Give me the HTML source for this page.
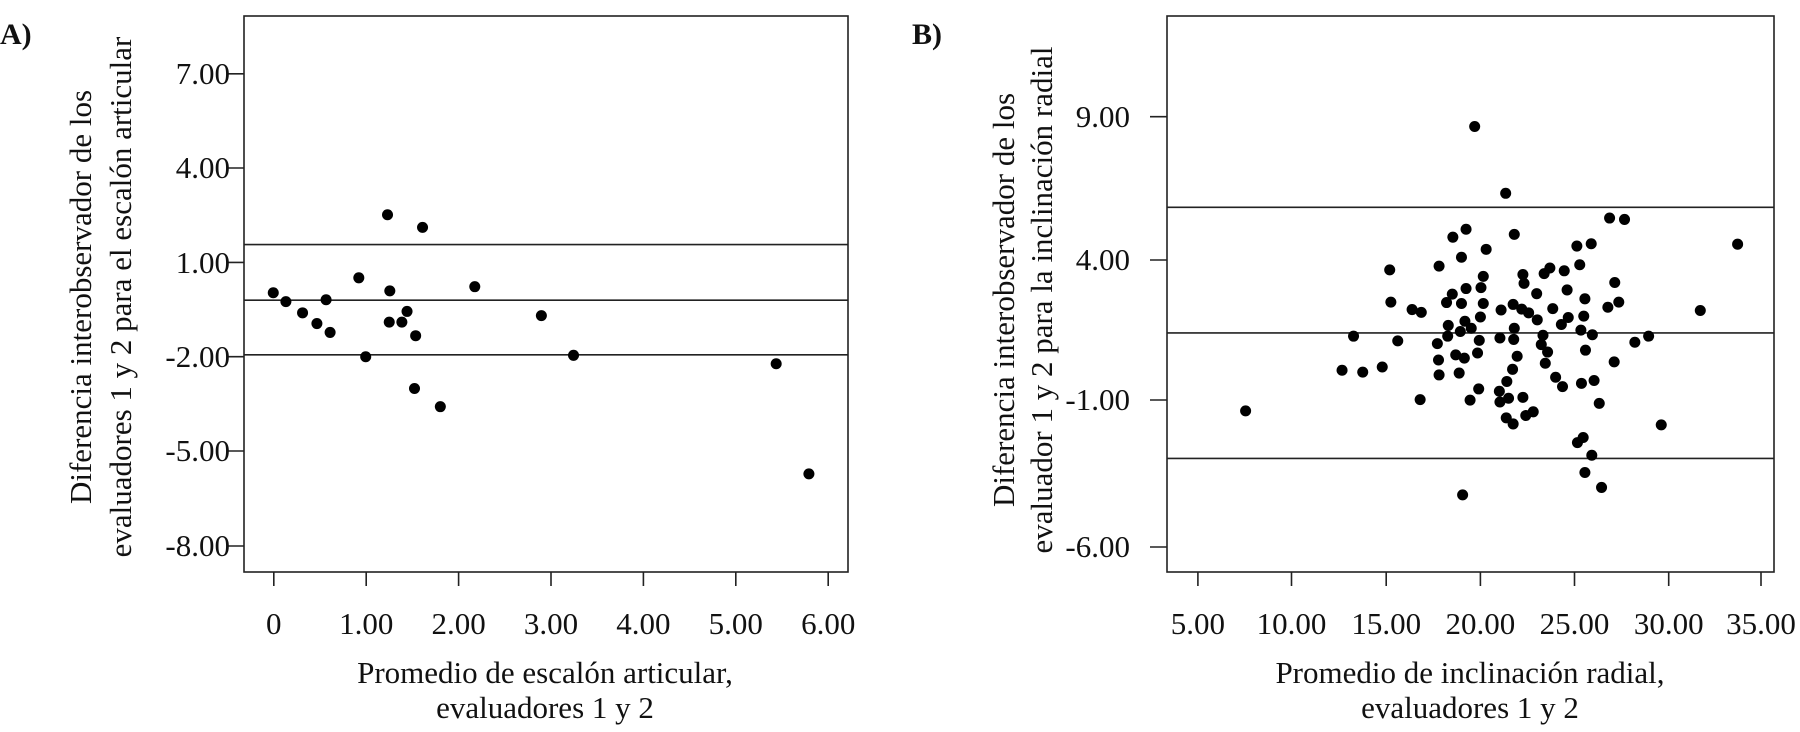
<!DOCTYPE html>
<html><head><meta charset="utf-8"><style>
html,body{margin:0;padding:0;background:#fff;}
svg{display:block;}
text{font-family:"Liberation Serif",serif;fill:#111;}
</style></head><body>
<svg width="1800" height="732" viewBox="0 0 1800 732" xmlns="http://www.w3.org/2000/svg">
<g stroke="#222" stroke-width="1.6" fill="none">
<rect x="244" y="16" width="604" height="556"/>
<line x1="244" y1="244.6" x2="848" y2="244.6"/>
<line x1="244" y1="300.2" x2="848" y2="300.2"/>
<line x1="244" y1="354.8" x2="848" y2="354.8"/>
<line x1="227" y1="73.8" x2="244" y2="73.8"/><line x1="227" y1="168" x2="244" y2="168"/><line x1="227" y1="262.4" x2="244" y2="262.4"/><line x1="227" y1="356.7" x2="244" y2="356.7"/><line x1="227" y1="451" x2="244" y2="451"/><line x1="227" y1="546" x2="244" y2="546"/>
<line x1="273.8" y1="572" x2="273.8" y2="586"/><line x1="366.2" y1="572" x2="366.2" y2="586"/><line x1="458.6" y1="572" x2="458.6" y2="586"/><line x1="551" y1="572" x2="551" y2="586"/><line x1="643.4" y1="572" x2="643.4" y2="586"/><line x1="735.8" y1="572" x2="735.8" y2="586"/><line x1="828.2" y1="572" x2="828.2" y2="586"/>
<rect x="1167" y="16" width="607" height="556"/>
<line x1="1167" y1="207.3" x2="1774" y2="207.3"/>
<line x1="1167" y1="332.9" x2="1774" y2="332.9"/>
<line x1="1167" y1="458.4" x2="1774" y2="458.4"/>
<line x1="1150" y1="116.7" x2="1167" y2="116.7"/><line x1="1150" y1="260" x2="1167" y2="260"/><line x1="1150" y1="400" x2="1167" y2="400"/><line x1="1150" y1="547" x2="1167" y2="547"/>
<line x1="1197.9" y1="572" x2="1197.9" y2="586"/><line x1="1291.5" y1="572" x2="1291.5" y2="586"/><line x1="1386.2" y1="572" x2="1386.2" y2="586"/><line x1="1480.4" y1="572" x2="1480.4" y2="586"/><line x1="1574.5" y1="572" x2="1574.5" y2="586"/><line x1="1668.7" y1="572" x2="1668.7" y2="586"/><line x1="1761" y1="572" x2="1761" y2="586"/>
</g>
<g font-size="31" text-anchor="end">
<text x="230" y="84">7.00</text><text x="230" y="178">4.00</text><text x="230" y="273">1.00</text><text x="230" y="367">-2.00</text><text x="230" y="461">-5.00</text><text x="230" y="556">-8.00</text>
<text x="1130" y="127">9.00</text><text x="1130" y="270">4.00</text><text x="1130" y="410">-1.00</text><text x="1130" y="557">-6.00</text>
</g>
<g font-size="31" text-anchor="middle">
<text x="273.8" y="634">0</text><text x="366.2" y="634">1.00</text><text x="458.6" y="634">2.00</text><text x="551" y="634">3.00</text><text x="643.4" y="634">4.00</text><text x="735.8" y="634">5.00</text><text x="828.2" y="634">6.00</text>
<text x="1197.9" y="634">5.00</text><text x="1291.5" y="634">10.00</text><text x="1386.2" y="634">15.00</text><text x="1480.4" y="634">20.00</text><text x="1574.5" y="634">25.00</text><text x="1668.7" y="634">30.00</text><text x="1761" y="634">35.00</text>
<text x="545" y="683">Promedio de escalón articular,</text>
<text x="545" y="718">evaluadores 1 y 2</text>
<text x="1470" y="683">Promedio de inclinación radial,</text>
<text x="1470" y="718">evaluadores 1 y 2</text>
<text transform="translate(91,297) rotate(-90)">Diferencia interobservador de los</text>
<text transform="translate(131,297) rotate(-90)">evaluadores 1 y 2 para el escalón articular</text>
<text transform="translate(1014,300) rotate(-90)">Diferencia interobservador de los</text>
<text transform="translate(1052,300) rotate(-90)">evaluador 1 y 2 para la inclinación radial</text>
</g>
<text x="0" y="44" font-size="30" font-weight="bold">A)</text>
<text x="912" y="44" font-size="30" font-weight="bold">B)</text>
<g transform="scale(0.5741,0.4669)" fill="#000">
<ellipse cx="476" cy="627" rx="9.6" ry="11.8"/><ellipse cx="498" cy="646" rx="9.6" ry="11.8"/><ellipse cx="527" cy="670" rx="9.6" ry="11.8"/><ellipse cx="552" cy="693" rx="9.6" ry="11.8"/><ellipse cx="568" cy="642" rx="9.6" ry="11.8"/><ellipse cx="575" cy="712" rx="9.6" ry="11.8"/><ellipse cx="625" cy="595" rx="9.6" ry="11.8"/><ellipse cx="637" cy="764" rx="9.6" ry="11.8"/><ellipse cx="675" cy="460" rx="9.6" ry="11.8"/><ellipse cx="679" cy="623" rx="9.6" ry="11.8"/><ellipse cx="678" cy="690" rx="9.6" ry="11.8"/><ellipse cx="700" cy="690" rx="9.6" ry="11.8"/><ellipse cx="709" cy="667" rx="9.6" ry="11.8"/><ellipse cx="724" cy="719" rx="9.6" ry="11.8"/><ellipse cx="722" cy="832" rx="9.6" ry="11.8"/><ellipse cx="736" cy="487" rx="9.6" ry="11.8"/><ellipse cx="767" cy="871" rx="9.6" ry="11.8"/><ellipse cx="827" cy="614" rx="9.6" ry="11.8"/><ellipse cx="943" cy="676" rx="9.6" ry="11.8"/><ellipse cx="999" cy="761" rx="9.6" ry="11.8"/><ellipse cx="1352" cy="779" rx="9.6" ry="11.8"/><ellipse cx="1409" cy="1015" rx="9.6" ry="11.8"/>
</g>
<g transform="translate(900,0) scale(0.5741,0.4669)" fill="#000">
<ellipse cx="1001" cy="271" rx="9.6" ry="11.8"/><ellipse cx="1055" cy="414" rx="9.6" ry="11.8"/><ellipse cx="1236" cy="467" rx="9.6" ry="11.8"/><ellipse cx="1262" cy="470" rx="9.6" ry="11.8"/><ellipse cx="1070" cy="502" rx="9.6" ry="11.8"/><ellipse cx="986" cy="491" rx="9.6" ry="11.8"/><ellipse cx="963" cy="508" rx="9.6" ry="11.8"/><ellipse cx="1021" cy="534" rx="9.6" ry="11.8"/><ellipse cx="978" cy="551" rx="9.6" ry="11.8"/><ellipse cx="1179" cy="527" rx="9.6" ry="11.8"/><ellipse cx="1204" cy="522" rx="9.6" ry="11.8"/><ellipse cx="1459" cy="523" rx="9.6" ry="11.8"/><ellipse cx="853" cy="578" rx="9.6" ry="11.8"/><ellipse cx="939" cy="570" rx="9.6" ry="11.8"/><ellipse cx="1016" cy="592" rx="9.6" ry="11.8"/><ellipse cx="1085" cy="588" rx="9.6" ry="11.8"/><ellipse cx="1122" cy="586" rx="9.6" ry="11.8"/><ellipse cx="1132" cy="574" rx="9.6" ry="11.8"/><ellipse cx="1157" cy="580" rx="9.6" ry="11.8"/><ellipse cx="1184" cy="567" rx="9.6" ry="11.8"/><ellipse cx="1245" cy="605" rx="9.6" ry="11.8"/><ellipse cx="1087" cy="607" rx="9.6" ry="11.8"/><ellipse cx="1012" cy="616" rx="9.6" ry="11.8"/><ellipse cx="986" cy="618" rx="9.6" ry="11.8"/><ellipse cx="962" cy="630" rx="9.6" ry="11.8"/><ellipse cx="855" cy="647" rx="9.6" ry="11.8"/><ellipse cx="952" cy="648" rx="9.6" ry="11.8"/><ellipse cx="978" cy="650" rx="9.6" ry="11.8"/><ellipse cx="1016" cy="650" rx="9.6" ry="11.8"/><ellipse cx="1109" cy="629" rx="9.6" ry="11.8"/><ellipse cx="1162" cy="621" rx="9.6" ry="11.8"/><ellipse cx="1193" cy="640" rx="9.6" ry="11.8"/><ellipse cx="1252" cy="647" rx="9.6" ry="11.8"/><ellipse cx="1233" cy="658" rx="9.6" ry="11.8"/><ellipse cx="892" cy="663" rx="9.6" ry="11.8"/><ellipse cx="908" cy="669" rx="9.6" ry="11.8"/><ellipse cx="1047" cy="664" rx="9.6" ry="11.8"/><ellipse cx="1068" cy="652" rx="9.6" ry="11.8"/><ellipse cx="1083" cy="662" rx="9.6" ry="11.8"/><ellipse cx="1095" cy="670" rx="9.6" ry="11.8"/><ellipse cx="1137" cy="661" rx="9.6" ry="11.8"/><ellipse cx="1394" cy="665" rx="9.6" ry="11.8"/><ellipse cx="1011" cy="679" rx="9.6" ry="11.8"/><ellipse cx="1110" cy="685" rx="9.6" ry="11.8"/><ellipse cx="1164" cy="680" rx="9.6" ry="11.8"/><ellipse cx="1191" cy="677" rx="9.6" ry="11.8"/><ellipse cx="955" cy="697" rx="9.6" ry="11.8"/><ellipse cx="984" cy="688" rx="9.6" ry="11.8"/><ellipse cx="995" cy="703" rx="9.6" ry="11.8"/><ellipse cx="1070" cy="703" rx="9.6" ry="11.8"/><ellipse cx="1152" cy="695" rx="9.6" ry="11.8"/><ellipse cx="1186" cy="707" rx="9.6" ry="11.8"/><ellipse cx="790" cy="720" rx="9.6" ry="11.8"/><ellipse cx="867" cy="730" rx="9.6" ry="11.8"/><ellipse cx="954" cy="720" rx="9.6" ry="11.8"/><ellipse cx="976" cy="710" rx="9.6" ry="11.8"/><ellipse cx="1009" cy="729" rx="9.6" ry="11.8"/><ellipse cx="1045" cy="724" rx="9.6" ry="11.8"/><ellipse cx="1069" cy="727" rx="9.6" ry="11.8"/><ellipse cx="1120" cy="718" rx="9.6" ry="11.8"/><ellipse cx="1206" cy="717" rx="9.6" ry="11.8"/><ellipse cx="1304" cy="720" rx="9.6" ry="11.8"/><ellipse cx="1280" cy="733" rx="9.6" ry="11.8"/><ellipse cx="936" cy="736" rx="9.6" ry="11.8"/><ellipse cx="1117" cy="738" rx="9.6" ry="11.8"/><ellipse cx="1128" cy="754" rx="9.6" ry="11.8"/><ellipse cx="1194" cy="750" rx="9.6" ry="11.8"/><ellipse cx="938" cy="771" rx="9.6" ry="11.8"/><ellipse cx="968" cy="760" rx="9.6" ry="11.8"/><ellipse cx="983" cy="767" rx="9.6" ry="11.8"/><ellipse cx="1006" cy="756" rx="9.6" ry="11.8"/><ellipse cx="1075" cy="763" rx="9.6" ry="11.8"/><ellipse cx="1124" cy="778" rx="9.6" ry="11.8"/><ellipse cx="1244" cy="775" rx="9.6" ry="11.8"/><ellipse cx="770" cy="793" rx="9.6" ry="11.8"/><ellipse cx="806" cy="797" rx="9.6" ry="11.8"/><ellipse cx="840" cy="786" rx="9.6" ry="11.8"/><ellipse cx="939" cy="803" rx="9.6" ry="11.8"/><ellipse cx="974" cy="799" rx="9.6" ry="11.8"/><ellipse cx="1067" cy="791" rx="9.6" ry="11.8"/><ellipse cx="1142" cy="808" rx="9.6" ry="11.8"/><ellipse cx="1154" cy="828" rx="9.6" ry="11.8"/><ellipse cx="1187" cy="821" rx="9.6" ry="11.8"/><ellipse cx="1209" cy="815" rx="9.6" ry="11.8"/><ellipse cx="1057" cy="817" rx="9.6" ry="11.8"/><ellipse cx="1008" cy="833" rx="9.6" ry="11.8"/><ellipse cx="1044" cy="838" rx="9.6" ry="11.8"/><ellipse cx="906" cy="856" rx="9.6" ry="11.8"/><ellipse cx="993" cy="857" rx="9.6" ry="11.8"/><ellipse cx="1045" cy="861" rx="9.6" ry="11.8"/><ellipse cx="1060" cy="853" rx="9.6" ry="11.8"/><ellipse cx="1085" cy="851" rx="9.6" ry="11.8"/><ellipse cx="1218" cy="864" rx="9.6" ry="11.8"/><ellipse cx="1056" cy="895" rx="9.6" ry="11.8"/><ellipse cx="1068" cy="908" rx="9.6" ry="11.8"/><ellipse cx="1090" cy="890" rx="9.6" ry="11.8"/><ellipse cx="1103" cy="882" rx="9.6" ry="11.8"/><ellipse cx="602" cy="880" rx="9.6" ry="11.8"/><ellipse cx="1326" cy="910" rx="9.6" ry="11.8"/><ellipse cx="1180" cy="948" rx="9.6" ry="11.8"/><ellipse cx="1190" cy="937" rx="9.6" ry="11.8"/><ellipse cx="1205" cy="975" rx="9.6" ry="11.8"/><ellipse cx="1193" cy="1012" rx="9.6" ry="11.8"/><ellipse cx="1222" cy="1044" rx="9.6" ry="11.8"/><ellipse cx="980" cy="1060" rx="9.6" ry="11.8"/>
</g>
</svg>
</body></html>
